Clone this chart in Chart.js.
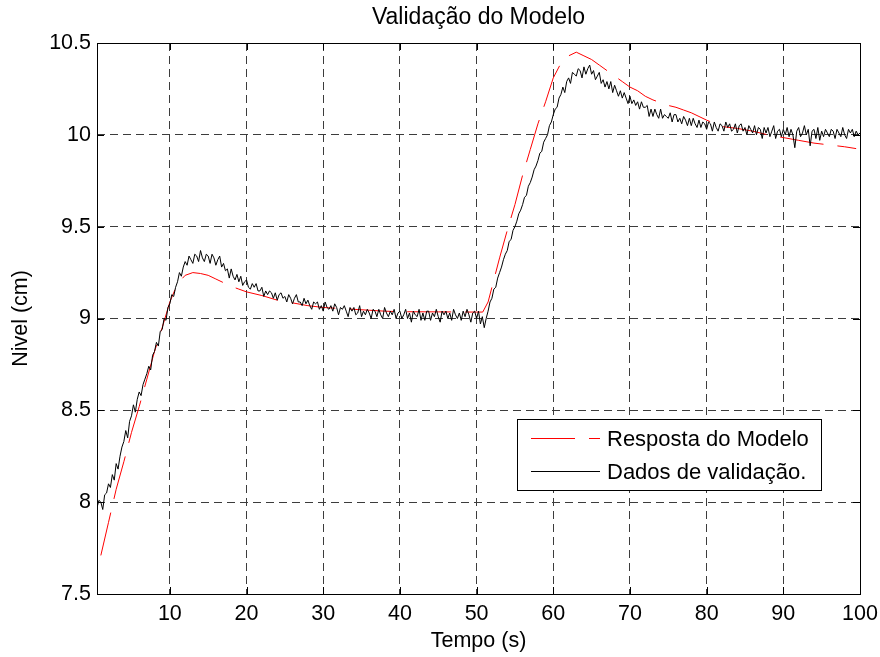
<!DOCTYPE html>
<html>
<head>
<meta charset="utf-8">
<script src="https://cdn.jsdelivr.net/npm/chart.js@4.4.1/dist/chart.umd.min.js"></script>
<style>
  html, body { margin: 0; padding: 0; background: #fff; }
  canvas { display: block; }
</style>
</head>
<body>
<canvas id="nivelChart" width="880" height="657"></canvas>
<script>
// eixos
const rotuloX = [10, 20, 30, 40, 50, 60, 70, 80, 90, 100];
const rotuloY = [7.5, 8, 8.5, 9, 9.5, 10, 10.5];

// resposta simulada do modelo
const tempoModelo = [1, 2, 3, 4, 5, 6, 7, 8, 9, 10,
    11, 12, 13, 14, 15, 16, 17, 18, 19, 20,
    22, 24, 26, 28, 30, 32, 34, 36, 38, 40,
    45, 50, 50.8, 51.5, 52, 53, 54, 55, 56, 57,
    58, 59, 60, 61, 62, 63, 64, 65, 66, 67,
    68, 69, 70, 71, 72, 73, 74, 75, 76, 77,
    78, 80, 82, 84, 86, 88, 90, 92, 94, 96,
    98, 99.5];
const nivelModelo = [7.71, 7.89, 8.07, 8.22, 8.38, 8.52, 8.67, 8.82, 8.95, 9.09,
    9.19, 9.235, 9.25, 9.245, 9.235, 9.215, 9.195, 9.175, 9.16, 9.145,
    9.125, 9.10, 9.085, 9.07, 9.06, 9.055, 9.05, 9.045, 9.04, 9.037,
    9.036, 9.035, 9.035, 9.09, 9.17, 9.33, 9.48, 9.62, 9.78, 9.92,
    10.06, 10.18, 10.31, 10.39, 10.43, 10.45, 10.43, 10.41, 10.38, 10.35,
    10.32, 10.29, 10.26, 10.24, 10.21, 10.19, 10.175, 10.16, 10.15, 10.135,
    10.12, 10.08, 10.045, 10.035, 10.02, 10.00, 9.985, 9.97, 9.955, 9.945,
    9.935, 9.925];

// nivel medido, amostrado a cada 0.25 s a partir de 0.5 s
const inicioDados = 0.5;
const passoDados = 0.25;
const nivelDados = [
    7.97, 8.01,
    8.00, 7.96, 8.04, 8.05,   // 1 s
    8.10, 8.08, 8.15, 8.12,
    8.21, 8.18, 8.25, 8.30,
    8.33, 8.39, 8.35, 8.44,
    8.47, 8.53, 8.49, 8.56,   // 5 s
    8.60, 8.58, 8.64, 8.67,
    8.70, 8.74, 8.72, 8.80,
    8.82, 8.87, 8.85, 8.93,
    8.94, 9.00, 8.99, 9.06,
    9.08, 9.13, 9.12, 9.17,   // 10 s
    9.20, 9.25, 9.23, 9.28,
    9.31, 9.29, 9.34, 9.32,
    9.30, 9.35, 9.34, 9.31,
    9.37, 9.33, 9.31, 9.35,
    9.34, 9.30, 9.35, 9.33,   // 15 s
    9.29, 9.32, 9.34, 9.28,
    9.30, 9.26, 9.27, 9.22,
    9.27, 9.23, 9.21, 9.24,
    9.20, 9.23, 9.18, 9.20,
    9.21, 9.17, 9.16, 9.19,   // 20 s
    9.17, 9.19, 9.15, 9.15,
    9.17, 9.12, 9.15, 9.13,
    9.15, 9.14, 9.11, 9.14,
    9.10, 9.13, 9.14, 9.11,
    9.12, 9.09, 9.13, 9.11,   // 25 s
    9.08, 9.11, 9.13, 9.09,
    9.09, 9.07, 9.11, 9.08,
    9.10, 9.07, 9.05, 9.09,
    9.08, 9.09, 9.05, 9.07,
    9.04, 9.09, 9.06, 9.05,   // 30 s
    9.07, 9.04, 9.08, 9.06,
    9.02, 9.06, 9.05, 9.07,
    9.04, 9.01, 9.06, 9.04,
    9.06, 9.02, 9.03, 9.07,
    9.01, 9.04, 9.02, 9.05,   // 35 s
    9.03, 9.00, 9.05, 9.04,
    9.01, 9.05, 9.02, 9.00,
    9.06, 9.03, 9.01, 9.04,
    9.02, 9.05, 9.00, 9.03,
    9.04, 9.00, 9.02, 9.05,   // 40 s
    9.00, 9.03, 8.98, 9.04,
    9.02, 9.01, 9.05, 8.99,
    9.03, 8.99, 9.04, 9.04,
    8.99, 9.03, 9.01, 9.05,
    9.01, 8.98, 9.04, 9.02,   // 45 s
    9.04, 9.00, 9.03, 8.99,
    9.05, 9.02, 9.00, 9.03,
    8.99, 9.04, 9.01, 9.05,
    9.02, 8.98, 9.03, 9.04,
    9.00, 9.04, 8.97, 9.01,   // 50 s
    8.95, 9.00, 9.04, 9.09,
    9.11, 9.16, 9.17, 9.22,
    9.25, 9.28, 9.32, 9.35,
    9.37, 9.42, 9.43, 9.48,
    9.50, 9.53, 9.57, 9.59,   // 55 s
    9.62, 9.66, 9.67, 9.72,
    9.74, 9.77, 9.81, 9.83,
    9.86, 9.90, 9.91, 9.96,
    9.98, 10.00, 10.05, 10.07,
    10.11, 10.14, 10.15, 10.20,   // 60 s
    10.22, 10.26, 10.23, 10.29,
    10.31, 10.28, 10.34, 10.33,
    10.32, 10.36, 10.35, 10.31,
    10.37, 10.33, 10.36, 10.38,
    10.33, 10.35, 10.30, 10.32,   // 65 s
    10.34, 10.28, 10.30, 10.26,
    10.29, 10.25, 10.29, 10.23,
    10.27, 10.24, 10.21, 10.24,
    10.20, 10.23, 10.20, 10.17,
    10.21, 10.17, 10.19, 10.16,   // 70 s
    10.18, 10.14, 10.18, 10.15,
    10.15, 10.16, 10.10, 10.14,
    10.10, 10.14, 10.11, 10.09,
    10.14, 10.09, 10.11, 10.10,
    10.09, 10.12, 10.07, 10.11,   // 75 s
    10.11, 10.07, 10.09, 10.06,
    10.10, 10.08, 10.05, 10.09,
    10.05, 10.09, 10.06, 10.04,
    10.08, 10.04, 10.07, 10.06,
    10.03, 10.07, 10.06, 10.02,   // 80 s
    10.07, 10.04, 10.02, 10.06,
    10.05, 10.02, 10.07, 10.04,
    10.06, 10.02, 10.03, 10.06,
    10.01, 10.05, 10.06, 10.02,
    10.04, 10.00, 10.05, 10.03,   // 85 s
    10.01, 10.05, 10.00, 10.04,
    10.03, 9.98, 10.04, 10.01,
    10.04, 9.99, 10.02, 10.05,
    9.98, 10.02, 10.03, 9.99,
    10.03, 10.00, 10.04, 9.99,    // 90 s
    10.03, 10.00, 9.93, 10.02,
    10.04, 9.99, 10.01, 10.05,
    10.00, 10.03, 9.94, 10.02,
    10.03, 9.98, 10.04, 9.97,
    10.02, 9.99, 10.03, 10.01,    // 95 s
    9.99, 10.03, 10.02, 9.98,
    10.03, 10.01, 9.99, 10.04,
    10.00, 9.98, 10.03, 10.01,
    10.03, 9.99, 10.02, 10.00,
    10.01                         // 100 s
];

const FONTE = "'Liberation Sans', Arial, sans-serif";
const TRACO_MODELO = [44, 14];

const pontosModelo = tempoModelo.map((t, i) => ({ x: t, y: nivelModelo[i] }));
const pontosDados = nivelDados.map((v, i) => ({ x: inicioDados + i * passoDados, y: v }));

// caixa dos eixos com marcas internas
const molduraEixos = {
    id: 'molduraEixos',
    afterDatasetsDraw(chart) {
        const { ctx, chartArea: a, scales } = chart;
        const tick = 7;
        ctx.save();
        ctx.strokeStyle = '#000';
        ctx.lineWidth = 1;
        ctx.setLineDash([]);
        ctx.beginPath();
        rotuloX.forEach(v => {
            const px = Math.round(scales.x.getPixelForValue(v)) + 0.5;
            ctx.moveTo(px, a.bottom); ctx.lineTo(px, a.bottom - tick);
            ctx.moveTo(px, a.top); ctx.lineTo(px, a.top + tick);
        });
        rotuloY.forEach(v => {
            const py = Math.round(scales.y.getPixelForValue(v)) + 0.5;
            ctx.moveTo(a.left, py); ctx.lineTo(a.left + tick, py);
            ctx.moveTo(a.right, py); ctx.lineTo(a.right - tick, py);
        });
        ctx.stroke();
        ctx.strokeRect(Math.round(a.left) + 0.5, Math.round(a.top) + 0.5,
            Math.round(a.right - a.left), Math.round(a.bottom - a.top));
        ctx.restore();
    }
};

// legenda dentro da area, canto inferior direito
const legendaInterna = {
    id: 'legendaInterna',
    afterDraw(chart) {
        const { ctx, chartArea: a } = chart;
        const x0 = Math.round(a.right) - 343;
        const y0 = Math.round(a.bottom) - 175;
        const w = 304, h = 71;
        ctx.save();
        ctx.fillStyle = '#fff';
        ctx.fillRect(x0, y0, w, h);
        ctx.strokeStyle = '#000';
        ctx.lineWidth = 1;
        ctx.strokeRect(x0 + 0.5, y0 + 0.5, w, h);

        ctx.font = '22px ' + FONTE;
        ctx.textBaseline = 'alphabetic';
        ctx.textAlign = 'left';
        chart.data.datasets.forEach((ds, i) => {
            const ly = y0 + 19 + i * 33;
            ctx.beginPath();
            ctx.strokeStyle = ds.borderColor;
            ctx.setLineDash(ds.borderDash || []);
            ctx.moveTo(x0 + 14, ly + 0.5);
            ctx.lineTo(x0 + 83, ly + 0.5);
            ctx.stroke();
            ctx.setLineDash([]);
            ctx.fillStyle = '#000';
            ctx.fillText(ds.label, x0 + 90, ly + 8);
        });
        ctx.restore();
    }
};

const ctx = document.getElementById('nivelChart').getContext('2d');
const nivelChart = new Chart(ctx, {
    type: 'line',
    data: {
        datasets: [{
            label: 'Resposta do Modelo',
            data: pontosModelo,
            borderColor: '#ff0000',
            borderWidth: 1,
            borderDash: TRACO_MODELO,
            pointRadius: 0,
            tension: 0,
            order: 2
        }, {
            label: 'Dados de validação.',
            data: pontosDados,
            borderColor: '#000000',
            borderWidth: 1,
            pointRadius: 0,
            tension: 0,
            order: 1
        }]
    },
    options: {
        responsive: false,
        animation: false,
        events: [],
        layout: { padding: { left: 0, right: 20, top: 0, bottom: 0 } },
        plugins: {
            legend: { display: false },
            tooltip: { enabled: false },
            title: {
                display: true,
                text: 'Validação do Modelo',
                fullSize: false,
                color: '#000',
                font: { family: FONTE, size: 23, weight: 'normal', lineHeight: 1.2 },
                padding: { top: 4, bottom: 11.4 }
            }
        },
        scales: {
            x: {
                type: 'linear',
                min: 0.5,
                max: 100,
                afterBuildTicks: s => { s.ticks = rotuloX.map(v => ({ value: v })); },
                // o rotulo "100" cabe na margem direita do layout
                afterFit: s => { s.height = 63; s.paddingRight = 0; s.paddingLeft = 0; },
                grid: { color: '#3c3c3c', lineWidth: 1, drawTicks: false },
                border: { display: false, dash: [8, 5] },
                ticks: {
                    color: '#000',
                    padding: 7,
                    maxRotation: 0,
                    font: { family: FONTE, size: 21.5 },
                    callback: v => String(v)
                },
                title: {
                    display: true,
                    text: 'Tempo (s)',
                    color: '#000',
                    font: { family: FONTE, size: 21.5, lineHeight: 1.2 },
                    padding: { top: 0, bottom: 3 }
                }
            },
            y: {
                type: 'linear',
                min: 7.5,
                max: 10.5,
                afterBuildTicks: s => { s.ticks = rotuloY.map(v => ({ value: v })); },
                afterFit: s => { s.width = 97; },
                grid: { color: '#3c3c3c', lineWidth: 1, drawTicks: false },
                border: { display: false, dash: [8, 5] },
                ticks: {
                    color: '#000',
                    padding: 6,
                    font: { family: FONTE, size: 21.5 },
                    callback: v => String(v)
                },
                title: {
                    display: true,
                    text: 'Nivel (cm)',
                    color: '#000',
                    font: { family: FONTE, size: 21.5, lineHeight: 1.2 },
                    padding: { top: 8, bottom: 0 }
                }
            }
        }
    },
    plugins: [molduraEixos, legendaInterna]
});
</script>
</body>
</html>
